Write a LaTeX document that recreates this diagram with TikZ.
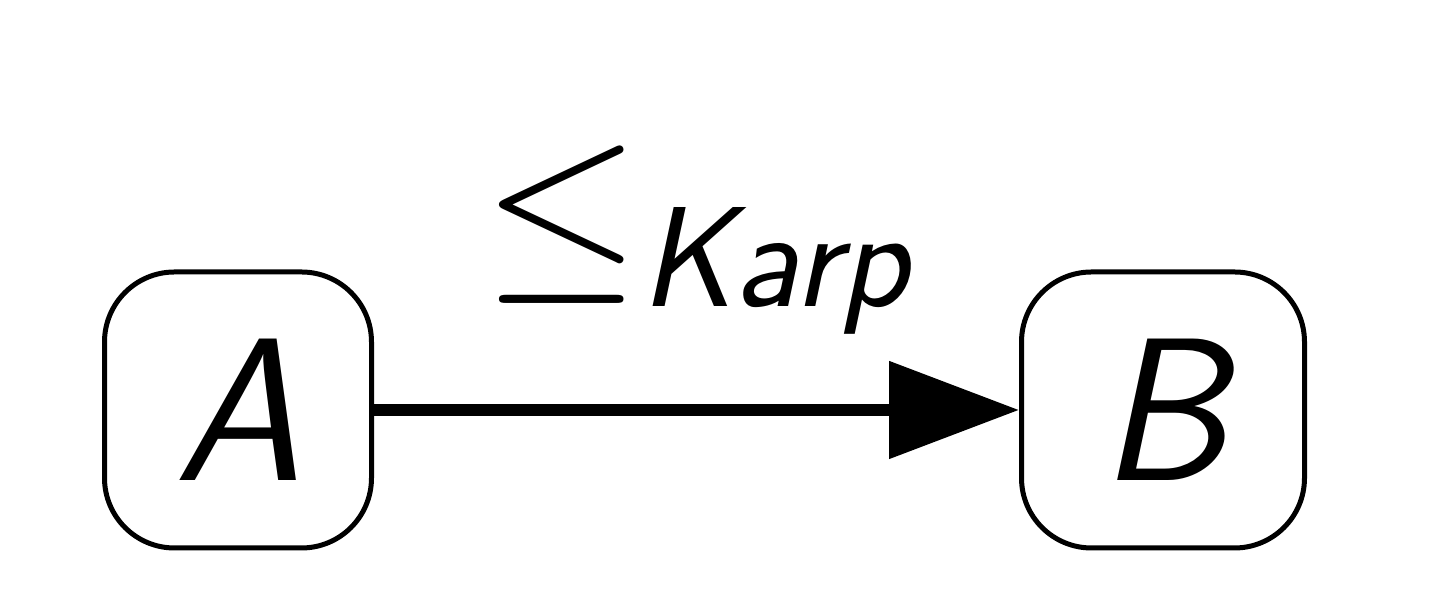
\RequirePackage{fix-cm}
\documentclass[tikz,border=0pt]{standalone}
\usepackage{amsmath}
\usetikzlibrary{arrows.meta}
\tikzset{
  box/.style={draw, line width=0.05cm, rounded corners=0.7cm, minimum height=2.76cm, inner sep=0pt, font=\fontsize{58}{62}\selectfont\sffamily\itshape},
  conn/.style={line width=0.12cm, -{Triangle[length=1.3cm,width=0.95cm]}},
  lbl/.style={font=\fontsize{58}{62}\selectfont, inner sep=0pt}
}
\begin{document}
\begin{tikzpicture}
\useasboundingbox (0,0) rectangle (14.4,6.07);
\node[box, minimum width=2.67cm] (a) at (2.38,1.97) {A};
\node[box, minimum width=2.83cm] (b) at (11.63,1.97) {B};
\draw[conn] (a) -- node[lbl, above=0.7cm] (l) {$\leq_{\textsf{\itshape Karp}}$} (b);
\end{tikzpicture}
\end{document}
